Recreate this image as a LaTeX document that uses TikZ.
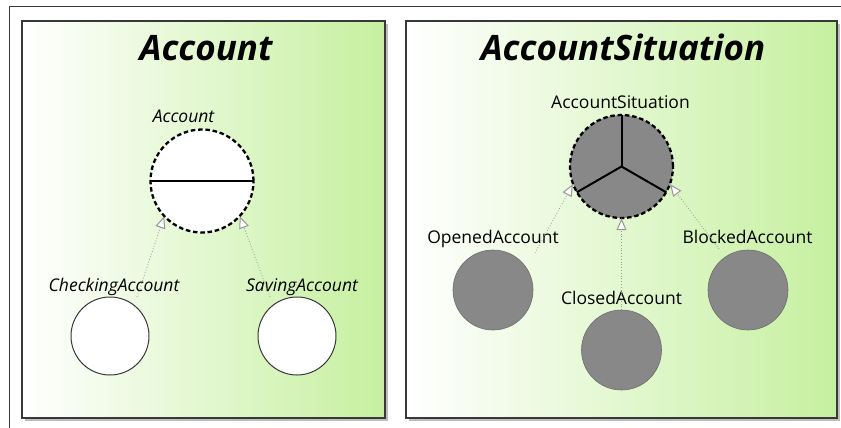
\documentclass[tikz,border=0pt]{standalone}
\usepackage{fontspec}
\setmainfont{Open Sans}
\usetikzlibrary{arrows.meta}
\definecolor{pgreen}{RGB}{198,240,160}
\definecolor{pborder}{RGB}{56,56,56}
\definecolor{pshadow}{RGB}{190,190,190}
\definecolor{sgray}{RGB}{136,136,136}
\definecolor{sgrayb}{RGB}{110,110,110}
\definecolor{arrgray}{RGB}{150,150,150}
\tikzset{
  panel/.style={left color=white,right color=pgreen},
  shadowbox/.style={fill=pshadow,draw=none},
  title/.style={font=\fontsize{35}{40}\selectfont\bfseries\itshape,anchor=base},
  lbl/.style={font=\fontsize{17.5}{20}\selectfont,anchor=base},
  ilbl/.style={font=\fontsize{17.5}{20}\selectfont\itshape,anchor=base},
  abstractc/.style={circle,draw=none,minimum size=103pt,inner sep=0pt},
  dashedring/.style={draw=black,line width=2.3pt,dash pattern=on 4.5pt off 2.8pt},
  whitec/.style={circle,draw=pborder,line width=1pt,fill=white,minimum size=78pt,inner sep=0pt},
  grayc/.style={circle,draw=sgrayb,line width=0.6pt,fill=sgray,minimum size=80pt,inner sep=0pt},
  realize/.style={draw=arrgray,line width=0.8pt,dotted,-{Triangle[open,length=12pt,width=10pt,fill=white,line width=1pt]}},
  divider/.style={draw=black,line width=2pt}
}
\begin{document}
\begin{tikzpicture}[x=1pt,y=-1pt]
\useasboundingbox (0,0) rectangle (841,428);
% outer frame
\draw[pborder,line width=1pt] (9,428) -- (9,7) -- (841,7);
% left panel
\fill[shadowbox] (25,24) rectangle (388,421);
\path[panel] (22,21) rectangle (385,418);
\draw[pborder,line width=1.5pt] (22,21) rectangle (385,418);
% right panel
\fill[shadowbox] (409,24) rectangle (840,421);
\path[panel] (406,21) rectangle (837,418);
\draw[pborder,line width=1.5pt] (406,21) rectangle (837,418);
% titles
\node[title] (t1) at (206,60) {Account};
\node[title] (t2) at (623,61) {AccountSituation};
% left diagram
\node[abstractc,fill=white] (acc) at (202,181) {};
\draw[divider] (acc.west) -- (acc.east);
\draw[dashedring] (acc) circle (51.5pt);
\node[ilbl] (accl) at (183.5,122) {Account};
\node[whitec] (chk) at (110,336) {};
\node[whitec] (sav) at (297,336) {};
\node[ilbl] (chkl) at (114,291) {CheckingAccount};
\node[ilbl] (savl) at (302,291) {SavingAccount};
\coordinate (chkt) at (137,297);
\coordinate (savt) at (270,297);
\draw[realize] (chkt) -- (acc.223);
\draw[realize] (savt) -- (acc.317);
% right diagram
\node[abstractc,fill=sgray] (sit) at (621.5,166.5) {};
\draw[divider] (sit.center) -- (sit.90);
\draw[divider] (sit.center) -- (sit.210);
\draw[divider] (sit.center) -- (sit.330);
\draw[dashedring] (sit) circle (51.5pt);
\node[lbl] (sitl) at (620.5,108) {AccountSituation};
\node[grayc] (opn) at (493,290) {};
\node[grayc] (cls) at (621.5,350) {};
\node[grayc] (blk) at (748,290) {};
\node[lbl] (opnl) at (493,243) {OpenedAccount};
\node[lbl] (clsl) at (621.5,304) {ClosedAccount};
\node[lbl] (blkl) at (747.5,243) {BlockedAccount};
\coordinate (opnt) at (535,253);
\coordinate (clst) at (621.5,310);
\coordinate (blkt) at (719,249);
\draw[realize] (opnt) -- (sit.200);
\draw[realize] (clst) -- (sit.270);
\draw[realize] (blkt) -- (sit.340);
\end{tikzpicture}
\end{document}
